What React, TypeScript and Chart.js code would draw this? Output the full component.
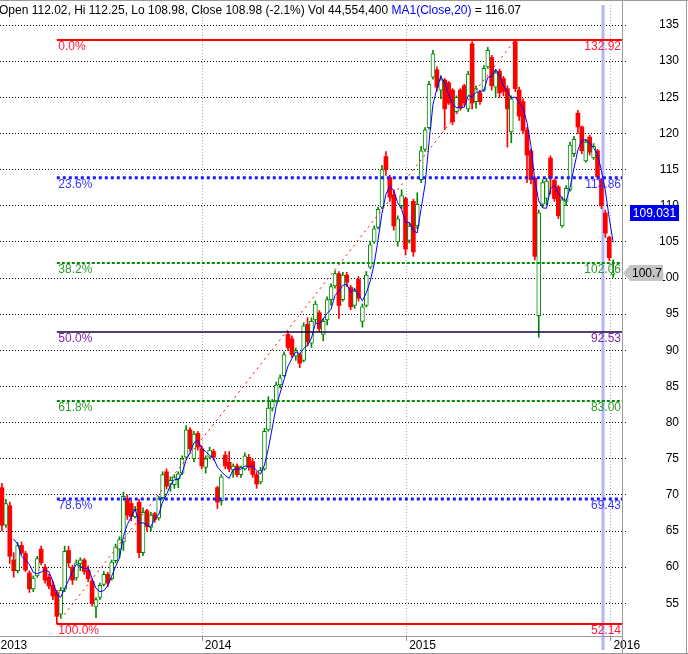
import React, { useEffect, useRef } from "react";
import { Chart, registerables } from "chart.js";

Chart.register(...registerables);

// Weekly OHLC (week index 0 = first week shown)
const opens = [
  71.0, 65.8, 68.5, 61.0, 59.5, 63.0, 61.9, 59.2, 57.0, 58.8,
  62.5, 60.0, 58.6, 57.5, 56.5, 53.5, 57.0, 62.3, 60.0, 58.5,
  60.5, 61.0, 59.6, 58.0, 54.5, 55.8, 57.6, 59.0, 58.4, 60.9,
  62.5, 63.5, 69.5, 68.8, 67.0, 69.0, 62.0, 67.8, 65.5, 67.4,
  66.8, 69.6, 73.2, 71.5, 71.4, 72.2, 73.0, 75.2, 79.0, 75.0,
  78.5, 76.4, 73.8, 75.2, 76.0, 71.0, 69.2, 75.5, 74.5, 73.4,
  74.0, 72.8, 73.6, 75.2, 74.6, 72.8, 71.8, 73.6, 79.0, 82.0,
  83.0, 85.2, 86.5, 92.2, 91.6, 89.2, 89.4, 88.6, 93.6, 91.0,
  94.2, 95.2, 92.2, 94.2, 97.0, 98.9, 100.6, 97.0, 100.4, 98.7,
  96.2, 99.8, 94.0, 96.2, 101.5, 105.0, 107.0, 109.8, 116.8, 113.9,
  111.5, 105.0, 110.0, 111.0, 105.2, 110.6, 107.2, 113.6, 117.8, 120.8,
  127.8, 128.8, 126.0, 127.4, 127.0, 126.0, 123.0, 126.0, 126.6, 123.4,
  132.4, 124.4, 125.6, 126.0, 129.2, 130.5, 126.4, 128.6, 127.6, 126.2,
  120.2, 132.7, 126.0, 124.4, 120.4, 117.6, 113.8, 94.8, 110.2, 111.0,
  116.6, 113.5, 112.6, 107.2, 110.6, 112.2, 117.2, 122.8, 120.9, 116.2,
  119.5, 116.6, 117.6, 113.6, 109.0, 105.6, 100.5,
];
const highs = [
  71.6, 69.4, 69.0, 62.0, 63.4, 63.5, 62.2, 59.5, 58.8, 61.5,
  62.9, 60.4, 59.0, 58.0, 56.8, 57.2, 62.9, 62.9, 60.3, 61.0,
  61.3, 61.2, 60.2, 58.4, 55.8, 57.8, 59.4, 59.3, 61.0, 63.2,
  64.2, 70.4, 70.0, 69.2, 68.4, 69.4, 68.2, 68.0, 67.6, 67.6,
  69.8, 73.2, 73.6, 72.5, 72.8, 73.2, 75.4, 79.6, 79.3, 78.8,
  78.8, 76.8, 75.4, 76.6, 76.3, 71.2, 72.8, 76.0, 76.0, 74.3,
  74.3, 74.0, 75.8, 75.6, 75.0, 73.2, 73.8, 79.2, 83.6, 83.2,
  85.6, 86.6, 89.8, 92.6, 92.0, 90.3, 89.6, 93.8, 94.5, 94.5,
  96.8, 95.5, 94.4, 97.4, 99.2, 101.0, 100.9, 100.8, 100.8, 99.0,
  98.6, 100.2, 96.4, 100.9, 105.0, 107.2, 109.8, 115.6, 117.5, 114.2,
  112.2, 108.6, 112.2, 111.2, 107.6, 110.9, 111.8, 118.2, 120.8, 127.2,
  131.5, 129.2, 128.0, 127.6, 127.2, 126.2, 125.2, 126.2, 126.8, 128.6,
  132.7, 126.6, 126.0, 129.4, 131.9, 130.8, 128.8, 128.9, 127.9, 126.6,
  125.2, 132.92, 126.4, 124.8, 120.8, 117.8, 114.0, 109.4, 113.6, 113.8,
  116.9, 113.7, 112.8, 111.2, 112.8, 118.8, 119.6, 123.2, 121.0, 119.2,
  119.8, 118.6, 117.8, 113.8, 109.4, 105.8, 102.5,
];
const lows = [
  65.0, 65.5, 60.5, 58.6, 59.2, 61.8, 59.4, 56.5, 56.6, 58.6,
  60.3, 57.8, 57.0, 55.5, 52.14, 53.0, 56.6, 60.0, 57.6, 58.2,
  59.5, 59.0, 58.0, 54.6, 53.0, 55.5, 57.4, 57.3, 58.2, 60.6,
  61.3, 62.3, 66.6, 66.4, 66.8, 61.3, 61.6, 65.0, 65.0, 66.2,
  66.5, 69.4, 70.8, 70.5, 70.9, 71.0, 72.8, 75.0, 76.0, 74.6,
  76.2, 73.6, 73.0, 75.0, 74.8, 68.1, 68.6, 73.6, 73.2, 72.4,
  72.5, 72.4, 73.4, 73.4, 72.4, 70.9, 71.5, 73.4, 78.8, 81.6,
  82.8, 84.8, 86.4, 90.0, 89.0, 88.6, 87.6, 88.4, 90.6, 90.4,
  93.8, 92.6, 91.3, 93.5, 96.2, 98.6, 94.4, 96.8, 98.8, 95.6,
  95.8, 96.8, 93.2, 96.0, 101.3, 104.8, 106.8, 109.6, 114.2, 110.6,
  106.6, 104.4, 109.6, 103.2, 104.8, 103.0, 106.8, 113.2, 117.5, 120.6,
  127.5, 125.8, 124.8, 120.5, 124.0, 121.2, 122.8, 123.2, 123.8, 123.0,
  123.4, 123.5, 124.0, 125.8, 129.0, 126.0, 125.0, 125.0, 125.2, 118.1,
  118.7, 125.8, 121.8, 120.0, 113.2, 113.0, 102.5, 91.8, 109.8, 110.0,
  111.6, 110.6, 108.2, 107.0, 110.0, 112.0, 116.8, 120.0, 117.2, 116.0,
  117.0, 116.4, 113.6, 109.6, 105.6, 102.4, 100.1,
];
const closes = [
  65.8, 68.8, 61.5, 59.5, 63.0, 62.0, 59.6, 57.0, 58.5, 61.2,
  60.6, 58.2, 57.4, 56.0, 53.2, 56.8, 62.2, 60.6, 58.2, 60.6,
  61.0, 59.4, 58.4, 55.0, 55.5, 57.5, 59.0, 57.8, 60.7, 62.8,
  63.8, 69.8, 67.2, 67.0, 68.0, 62.0, 67.6, 65.6, 67.2, 66.6,
  69.5, 72.8, 71.2, 72.0, 72.4, 72.9, 75.0, 79.0, 76.4, 78.4,
  76.6, 74.0, 75.0, 76.2, 75.2, 69.0, 72.5, 74.0, 73.6, 74.0,
  72.8, 73.8, 75.4, 73.8, 72.8, 71.5, 73.4, 78.8, 82.0, 83.0,
  85.2, 86.2, 89.4, 90.4, 89.4, 90.0, 88.2, 93.4, 91.2, 94.0,
  96.4, 93.0, 94.0, 97.0, 98.8, 100.6, 96.2, 100.4, 99.4, 96.0,
  98.2, 97.2, 96.0, 100.4, 104.6, 106.8, 109.5, 115.0, 115.0, 111.2,
  107.2, 108.2, 111.4, 104.0, 107.2, 103.6, 110.2, 117.6, 120.5, 126.8,
  131.0, 126.4, 127.4, 123.4, 124.2, 121.6, 125.0, 123.6, 124.2, 128.2,
  124.2, 126.2, 124.4, 129.0, 131.5, 126.6, 128.4, 125.6, 125.8, 123.4,
  124.8, 126.2, 122.4, 120.4, 117.0, 113.6, 103.0, 109.0, 113.2, 113.4,
  113.8, 111.0, 108.6, 110.8, 112.4, 118.4, 119.2, 120.9, 117.6, 118.8,
  117.4, 118.2, 114.0, 110.0, 106.2, 102.8, 100.7,
];

// x axis (weeks from 1 Jan 2013)
const yearTicks = [0, 52.14, 104.29, 156.43];
const yearLabels = ["2013", "2014", "2015", "2016"];
const priceTicks = [55, 60, 65, 70, 75, 80, 85, 90, 95, 100, 105, 110, 115, 120, 125, 130, 135];

// Fibonacci retracement
const fibPercents = ["0.0%", "23.6%", "38.2%", "50.0%", "61.8%", "78.6%", "100.0%"];
const fibValues = [132.92, 113.86, 102.06, 92.53, 83.0, 69.43, 52.14];
const fibValueLabels = ["132.92", "113.86", "102.06", "92.53", "83.00", "69.43", "52.14"];
const swingLowIndex = 14;
const swingHighIndex = 131;

const maPeriod = 4;
const lastPrice = 100.7;
const lastPriceLabel = "100.7";
const maLast = 109.031;
const maLastLabel = "109.031";
const markerWeek = 154.5;

const headerParts = [
  { text: "Open 112.02, Hi 112.25, Lo 108.98, Close 108.98 (-2.1%) Vol 44,554,400 ", color: "#000000" },
  { text: "MA1(Close,20)", color: "#0000ff" },
  { text: " = 116.07", color: "#000000" },
];

// styles
const RED = "#ff0000";
const GREEN = "#008a00";
const FONT = "'Liberation Sans', Arial, sans-serif";
const fibStyles = [
  { color: "#ff0000", width: 2, dash: [] as number[], text: "#ff1a3c" },
  { color: "#1a1aff", width: 3, dash: [3, 3], text: "#3a3aff" },
  { color: "#008a00", width: 2, dash: [3, 2], text: "#2e9a2e" },
  { color: "#1a0040", width: 1.4, dash: [] as number[], text: "#7a2aa8" },
  { color: "#008a00", width: 2, dash: [3, 2], text: "#2e9a2e" },
  { color: "#1a1aff", width: 3, dash: [3, 3], text: "#3a3aff" },
  { color: "#ff0000", width: 2, dash: [] as number[], text: "#ff1a3c" },
];

const X_MIN = 0.5;
const X_MAX = 159.25;
const Y_MIN = 50.477;
const Y_MAX = 137.767;

export default function App() {
  const ref = useRef<HTMLCanvasElement | null>(null);

  useEffect(() => {
    document.body.style.margin = "0";
    const canvas = ref.current;
    if (!canvas) return;

    const idx = closes.map((_, i) => i);
    const xOf = (i: number) => i + 1;
    const isUp = (i: number) => closes[i] >= opens[i];

    const wicks = idx.map((i) => ({ x: xOf(i), y: [lows[i], highs[i]] }));
    const wickColors = idx.map((i) => (isUp(i) ? GREEN : RED));
    const upBodies = idx.filter(isUp).map((i) => ({ x: xOf(i), y: [opens[i], closes[i]] }));
    const downBodies = idx.filter((i) => !isUp(i)).map((i) => ({ x: xOf(i), y: [closes[i], opens[i]] }));

    const ma: { x: number; y: number }[] = [];
    for (let i = maPeriod - 1; i < closes.length; i++) {
      let s = 0;
      for (let k = i - maPeriod + 1; k <= i; k++) s += closes[k];
      ma.push({ x: xOf(i), y: s / maPeriod });
    }

    const fibStartX = xOf(swingLowIndex);
    const fibDatasets = fibValues.map((v, k) => ({
      type: "line" as const,
      data: [
        { x: fibStartX, y: v },
        { x: X_MAX, y: v },
      ],
      borderColor: fibStyles[k].color,
      borderWidth: fibStyles[k].width,
      borderDash: fibStyles[k].dash,
      borderCapStyle: "butt" as const,
      pointRadius: 0,
      order: 1,
    }));

    const overlay = {
      id: "overlay",
      beforeDatasetsDraw(chart: any) {
        const { ctx, scales } = chart;
        const px = Math.round(scales.x.getPixelForValue(markerWeek));
        ctx.save();
        ctx.fillStyle = "#b4b4ff";
        ctx.fillRect(px - 1.5, 5, 3, 645);
        ctx.restore();
      },
      afterDatasetsDraw(chart: any) {
        const { ctx, scales, chartArea } = chart;
        ctx.save();
        ctx.font = `12px ${FONT}`;
        ctx.textBaseline = "middle";
        const lx = scales.x.getPixelForValue(fibStartX) + 1.5;
        fibValues.forEach((v, k) => {
          const py = scales.y.getPixelForValue(v);
          ctx.fillStyle = fibStyles[k].text;
          ctx.textAlign = "left";
          ctx.fillText(fibPercents[k], lx, py + 7);
          ctx.textAlign = "right";
          ctx.fillText(fibValueLabels[k], chartArea.right - 1, py + 7);
        });
        ctx.restore();
      },
      afterDraw(chart: any) {
        const { ctx, scales, chartArea, width, height } = chart;
        ctx.save();
        // frame lines
        ctx.strokeStyle = "#9a9a9a";
        ctx.lineWidth = 1;
        ctx.beginPath();
        ctx.moveTo(0, chartArea.bottom + 0.5);
        ctx.lineTo(chartArea.right, chartArea.bottom + 0.5);
        ctx.moveTo(chartArea.right + 0.5, 0);
        ctx.lineTo(chartArea.right + 0.5, height);
        ctx.moveTo(0, 0.5);
        ctx.lineTo(width, 0.5);
        ctx.moveTo(width - 1.5, 0);
        ctx.lineTo(width - 1.5, height);
        ctx.moveTo(0, height - 0.5);
        ctx.lineTo(width, height - 0.5);
        ctx.stroke();

        // header
        ctx.font = `12px ${FONT}`;
        ctx.textBaseline = "alphabetic";
        ctx.textAlign = "left";
        let hx = -1;
        headerParts.forEach((p) => {
          ctx.fillStyle = p.color;
          ctx.fillText(p.text, hx, 14);
          hx += ctx.measureText(p.text).width;
        });

        // MA value box
        const my = scales.y.getPixelForValue(maLast);
        ctx.fillStyle = "#0000f0";
        ctx.fillRect(630, Math.round(my) - 8, 49, 16);
        ctx.fillStyle = "#ffffff";
        ctx.textAlign = "center";
        ctx.textBaseline = "middle";
        ctx.fillText(maLastLabel, 654.5, Math.round(my) + 0.5);

        // last price pointer
        const ly = Math.round(scales.y.getPixelForValue(lastPrice));
        ctx.fillStyle = "#c4c4c4";
        ctx.beginPath();
        ctx.moveTo(623, ly);
        ctx.lineTo(630, ly - 8);
        ctx.lineTo(663, ly - 8);
        ctx.lineTo(663, ly + 8);
        ctx.lineTo(630, ly + 8);
        ctx.closePath();
        ctx.fill();
        ctx.fillStyle = "#000000";
        ctx.fillText(lastPriceLabel, 647, ly + 0.5);
        ctx.restore();
      },
    };

    const chart = new Chart(canvas, {
      type: "bar",
      data: {
        datasets: [
          ...fibDatasets,
          {
            type: "line",
            data: [
              { x: xOf(swingLowIndex), y: lows[swingLowIndex] },
              { x: xOf(swingHighIndex), y: highs[swingHighIndex] },
            ],
            borderColor: RED,
            borderWidth: 1,
            borderDash: [2, 4],
            pointRadius: 0,
            order: 2,
          },
          {
            type: "line",
            data: ma,
            borderColor: "#0000ff",
            borderWidth: 1,
            pointRadius: 0,
            tension: 0,
            order: 3,
          },
          {
            type: "bar",
            data: upBodies as any,
            backgroundColor: "#ffffff",
            borderColor: GREEN,
            borderWidth: 1,
            borderSkipped: false,
            barThickness: 4,
            grouped: false,
            order: 4,
          },
          {
            type: "bar",
            data: downBodies as any,
            backgroundColor: RED,
            borderWidth: 0,
            barThickness: 4,
            grouped: false,
            order: 4,
          },
          {
            type: "bar",
            data: wicks as any,
            backgroundColor: wickColors,
            borderWidth: 0,
            barThickness: 1,
            grouped: false,
            order: 5,
          },
        ] as any,
      },
      options: {
        responsive: false,
        devicePixelRatio: 1,
        animation: false,
        events: [],
        layout: { padding: { top: 5, left: 0, right: 9, bottom: 0 } },
        plugins: { legend: { display: false }, tooltip: { enabled: false } },
        scales: {
          x: {
            type: "linear",
            min: X_MIN,
            max: X_MAX,
            offset: false,
            afterFit: (s: any) => {
              s.height = 18;
              s.paddingLeft = 0;
              s.paddingRight = 0;
            },
            afterBuildTicks: (s: any) => {
              s.ticks = yearTicks.map((v) => ({ value: v }));
            },
            grid: {
              color: "#aaaaaa",
              lineWidth: 1,
              tickLength: 5,
              tickColor: "#999999",
              tickBorderDash: [],
              offset: false,
            },
            border: { display: false, dash: [1, 2] },
            ticks: {
              autoSkip: false,
              maxRotation: 0,
              align: "start",
              labelOffset: 2.5,
              padding: -3,
              color: "#000000",
              font: { family: FONT, size: 12 },
              callback: (v: any) => {
                const k = yearTicks.indexOf(Number(v));
                return k >= 0 ? yearLabels[k] : "";
              },
            },
          },
          y: {
            type: "linear",
            position: "right",
            min: Y_MIN,
            max: Y_MAX,
            afterFit: (s: any) => {
              s.width = 57;
              s.paddingTop = 0;
              s.paddingBottom = 0;
            },
            afterBuildTicks: (s: any) => {
              s.ticks = priceTicks.map((v) => ({ value: v }));
            },
            grid: {
              color: "#000000",
              lineWidth: 1,
              tickLength: 5,
              tickColor: "#000000",
              tickBorderDash: [1, 2],
            },
            border: { display: false, dash: [1, 2] },
            ticks: {
              crossAlign: "far",
              padding: 4,
              color: "#000000",
              font: { family: FONT, size: 12 },
              callback: (v: any) => String(v),
            },
          },
        },
      } as any,
      plugins: [overlay],
    });

    return () => chart.destroy();
  }, []);

  return (
    <div style={{ width: 688, height: 654, background: "#ffffff" }}>
      <canvas ref={ref} width={688} height={654} style={{ display: "block" }} />
    </div>
  );
}
